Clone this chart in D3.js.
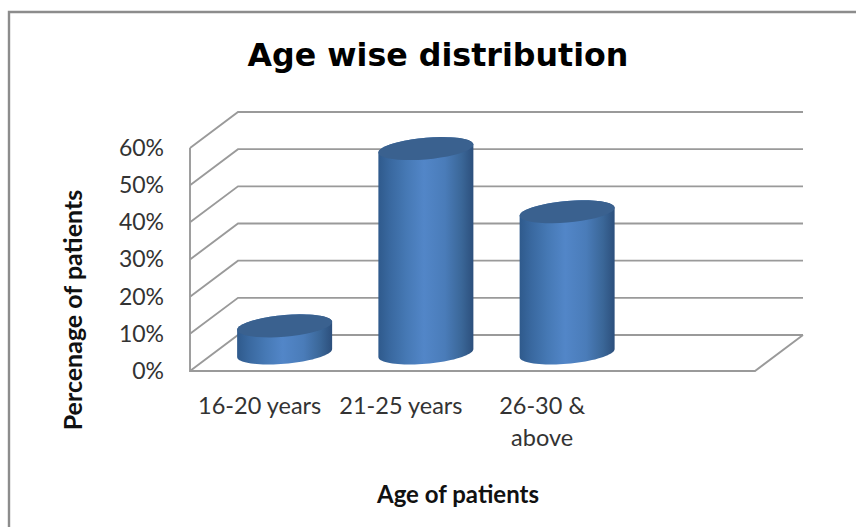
<!DOCTYPE html>
<html>
<head>
<meta charset="utf-8">
<script src="https://cdn.jsdelivr.net/npm/d3@7"></script>
<style>
html, body { margin: 0; padding: 0; background: #fff; }
svg { display: block; }
text { font-family: Lato, "Open Sans", sans-serif; }
</style>
</head>
<body>
<script>
var categories = ["16-20 years", "21-25 years", "26-30 & above", ""];
var values = [7.3, 55, 38];
var yTicks = [0, 10, 20, 30, 40, 50, 60];

var width = 856,
height = 527,
depthX = 48,
depthY = 36,
gridColor = "#9a9a9a";

var svg = d3.select("body").append("svg")
.attr("width", width)
.attr("height", height);

// front plane scales, the back wall sits depthX right and depthY up
var x = d3.scaleBand().domain(categories).range([190, 755]);
var y = d3.scaleLinear().domain([0, 60]).range([371, 148]);

var grad = svg.append("defs").append("linearGradient")
.attr("id", "cyl");
[[0, "#2f5a8c"], [0.12, "#39689f"], [0.3, "#4679b5"], [0.48, "#5286c8"], [0.7, "#4a7cb9"], [0.88, "#3a6697"], [1, "#2c4f7c"]]
.forEach(function(s) {
  grad.append("stop").attr("offset", s[0]).attr("stop-color", s[1]);
});

// chart frame, runs off the right and bottom of the picture
svg.append("path")
.attr("d", "M" + (width + 2) + ",12H9V" + (height + 2))
.attr("fill", "none")
.attr("stroke", "#8c8c8c")
.attr("stroke-width", 2.4);

// walls and gridlines
var grid = svg.append("g")
.attr("fill", "none")
.attr("stroke", gridColor)
.attr("stroke-width", 1.9);

grid.selectAll(".wall")
.data(yTicks)
.enter().append("path")
.attr("class", "wall")
.attr("d", function(d) {
  var left = x.range()[0];
  return "M" + left + "," + y(d) + "L" + (left + depthX) + "," + (y(d) - depthY) + "H" + (x.range()[1] + depthX);
});

grid.append("path")
.attr("d", "M" + x.range()[0] + "," + y(60) + "V" + y(0) + "H" + x.range()[1] + "L" + (x.range()[1] + depthX) + "," + (y(0) - depthY));

// value axis
var yAxis = d3.axisLeft(y)
.tickValues(yTicks)
.tickSize(0)
.tickPadding(0)
.tickFormat(function(d) { return d + "%"; });

var yG = svg.append("g")
.attr("transform", "translate(164,0)")
.call(yAxis);
yG.select(".domain").remove();
yG.selectAll("text")
.attr("x", 0)
.style("font-family", "Lato, sans-serif")
.style("font-size", "23px")
.attr("fill", "#333");

// cylinders, ellipse sheared so the right side rises
var rx = 47.5, ry = 10.8, tilt = -4;
function rim(cx, cy, from, to) {
  return d3.range(0, 41).map(function(i) {
    var t = from + (to - from) * i / 40;
    return [cx + rx * Math.cos(t), cy + tilt * Math.cos(t) + ry * Math.sin(t)];
  });
}
var line = d3.line();

var bars = svg.selectAll(".bar")
.data(values)
.enter().append("g")
.attr("class", "bar");

function barX(i) { return x(categories[i]) + x.bandwidth() / 2 + depthX / 2; }
function barBase() { return y(0) - depthY / 2; }
function barTop(d) { return y(d) - depthY / 2; }

bars.append("path")
.attr("fill", "url(#cyl)")
.attr("d", function(d, i) {
  var upper = rim(barX(i), barTop(d), Math.PI, 2 * Math.PI);
  var lower = rim(barX(i), barBase(), 0, Math.PI);
  return line(upper.concat(lower)) + "Z";
});

bars.append("path")
.attr("fill", "#3a618f")
.attr("d", function(d, i) {
  return line(rim(barX(i), barTop(d), 0, 2 * Math.PI)) + "Z";
});

// category labels
var xLabels = svg.selectAll(".cat")
.data(categories)
.enter().append("text")
.attr("class", "cat")
.attr("text-anchor", "middle")
.attr("font-size", 23.5)
.attr("fill", "#333")
.attr("y", 414);

xLabels.selectAll("tspan")
.data(function(d) {
  return d == "26-30 & above" ? ["26-30 &", "above"] : [d];
})
.enter().append("tspan")
.attr("x", function() { var c = d3.select(this.parentNode).datum(); return x(c) + x.bandwidth() / 2 - 1; })
.attr("dy", function(d, i) { return i ? 32 : 0; })
.text(function(d) { return d; });

// titles
svg.append("text")
.attr("x", 438)
.attr("y", 66)
.attr("text-anchor", "middle")
.style("font-family", "'DejaVu Sans', sans-serif")
.attr("font-weight", "bold")
.attr("font-size", 31.7)
.attr("fill", "#000")
.text("Age wise distribution");

svg.append("text")
.attr("x", 458)
.attr("y", 503)
.attr("text-anchor", "middle")
.attr("font-weight", "bold")
.attr("font-size", 24)
.attr("fill", "#111")
.text("Age of patients");

svg.append("text")
.attr("transform", "translate(82,310) rotate(-90)")
.attr("text-anchor", "middle")
.attr("font-weight", "bold")
.attr("font-size", 25)
.attr("fill", "#111")
.text("Percenage of patients");
</script>
</body>
</html>
